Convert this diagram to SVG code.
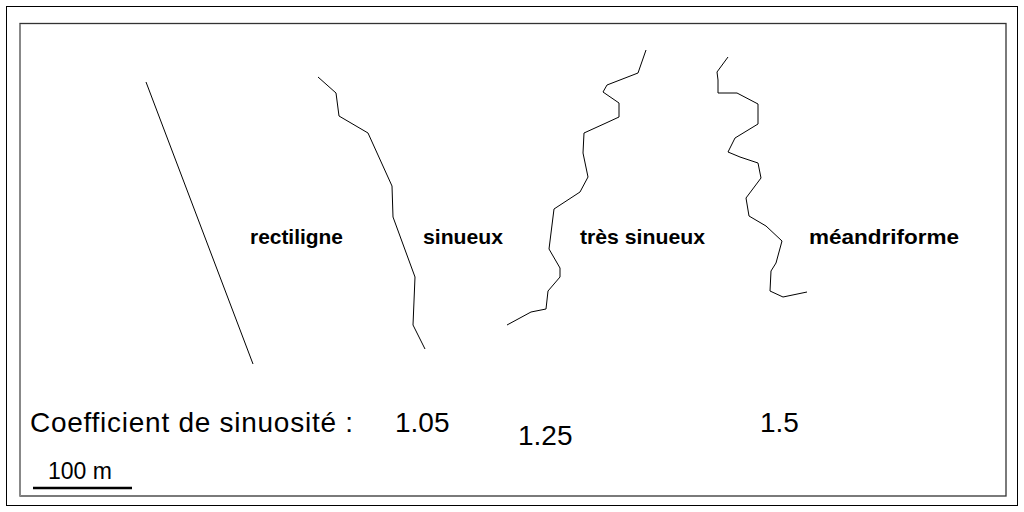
<svg xmlns="http://www.w3.org/2000/svg" width="1024" height="512" viewBox="0 0 1024 512">
<style>
.r{fill:none;stroke:#000;stroke-width:1}
.lab{font-family:"Liberation Sans",Arial,sans-serif;font-weight:bold;font-size:21px;fill:#000}
.big{font-family:"Liberation Sans",Arial,sans-serif;font-size:28px;fill:#000}
</style>
<rect x="0" y="0" width="1024" height="512" fill="#fff"/>
<rect x="6.5" y="6.5" width="1011" height="499" fill="none" stroke="#000" stroke-width="1"/>
<rect x="20" y="23.5" width="986" height="472.5" fill="none" stroke="#333" stroke-width="1.3"/>
<line x1="20" y1="24" x2="20" y2="496" stroke="#888" stroke-width="2"/>
<g id="rectiligne"><line class="r" x1="146" y1="82" x2="253" y2="364"/><text class="lab" x="250" y="244" textLength="93" lengthAdjust="spacingAndGlyphs">rectiligne</text></g>
<g id="sinueux"><polyline class="r" points="318,77 336,93 339,116 368,133 392,186 393,217 415,277 413,325 425,349"/><text class="lab" x="423" y="244" textLength="80" lengthAdjust="spacingAndGlyphs">sinueux</text></g>
<g id="tres-sinueux"><polyline class="r" points="646,50 638,73 607,85 603,92 619,103 619,117 606,123 584,133 583,153 588,177 580,192 554,209 549,249 560,268 560,277 548,291 546,309 531,312 507,325"/><text class="lab" x="580" y="244" textLength="125" lengthAdjust="spacingAndGlyphs">très sinueux</text></g>
<g id="meandriforme"><polyline class="r" points="728,57 717,72 718,80 718,93 737,93 758,104 758,124 735,138 728,152 740,157 758,163 761,178 746,198 749,216 766,226 782,241 776,263 771,271 770,291 783,297 807,292"/><text class="lab" x="809" y="244" textLength="150" lengthAdjust="spacingAndGlyphs">méandriforme</text></g>
<g id="coef">
<text class="big" x="30" y="432" textLength="323" lengthAdjust="spacing">Coefficient de sinuosité :</text>
<text class="big" x="395" y="432">1.05</text>
<text class="big" x="518" y="445">1.25</text>
<text class="big" x="760" y="432">1.5</text>
</g>
<g id="scale">
<text font-family="Liberation Sans,Arial,sans-serif" font-size="23" x="48" y="479">100 m</text>
<line x1="33" y1="488" x2="132" y2="488" stroke="#000" stroke-width="2.5"/>
</g>
</svg>
